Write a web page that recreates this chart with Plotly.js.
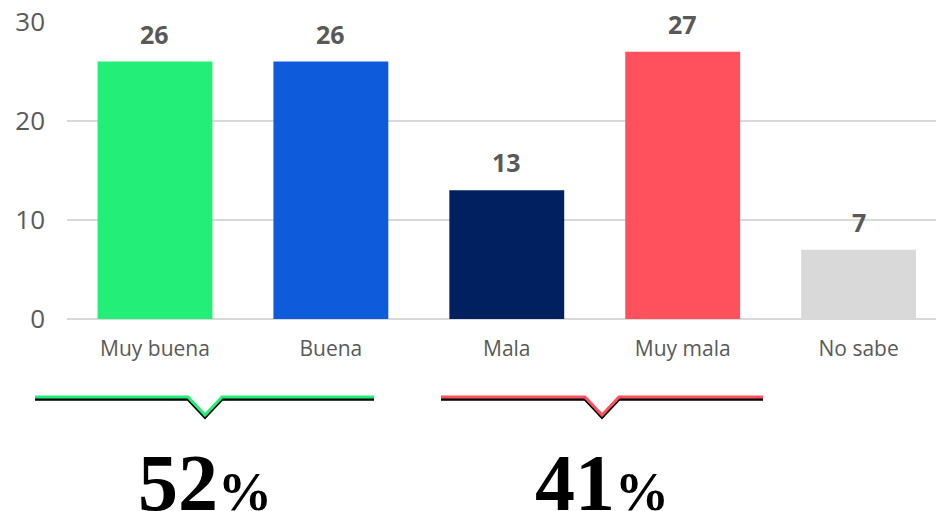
<!DOCTYPE html>
<html>
<head>
<meta charset="utf-8">
<script src="https://cdn.plot.ly/plotly-3.0.1.min.js"></script>
<style>html,body{margin:0;padding:0;background:#fff;}#chart{width:936px;height:511px;}</style>
</head>
<body>
<div id="chart"></div>
<script>
const categories = ['Muy buena', 'Buena', 'Mala', 'Muy mala', 'No sabe'];
const values = [26, 26, 13, 27, 7];
const barColors = ['#22EE78', '#0E5CDB', '#002060', '#FF505E', '#D9D9D9'];
const yTicks = [0, 10, 20, 30];
const summaryLabels = ['52', '41'];
const summaryColors = ['#22EE78', '#FF505E'];

const W = 936, H = 511;
const M = {l: 67, r: 0, t: 22, b: 192};
const PW = W - M.l - M.r, PH = H - M.t - M.b;
const fx = px => (px - M.l) / PW;
const fy = py => (H - M.b - py) / PH;

// bracket geometry (pixels): [left, notchLeft, tip, notchRight, right]
const brackets = [
  {x: [35, 188, 205, 222, 374], y: 397, tip: 415},
  {x: [441, 585, 602, 619, 763], y: 397, tip: 415}
];

function bracketPath(b, dy) {
  const pts = [[b.x[0], b.y], [b.x[1], b.y], [b.x[2], b.tip], [b.x[3], b.y], [b.x[4], b.y]];
  return pts.map((p, i) => (i ? 'L' : 'M') + fx(p[0]).toFixed(5) + ',' + fy(p[1] + dy).toFixed(5)).join(' ');
}

const shapes = [];
brackets.forEach((b, i) => {
  shapes.push({type: 'path', xref: 'paper', yref: 'paper', path: bracketPath(b, 2.2),
    line: {color: '#000000', width: 3}});
  shapes.push({type: 'path', xref: 'paper', yref: 'paper', path: bracketPath(b, 0),
    line: {color: summaryColors[i], width: 3}});
});

const annotations = values.map((v, i) => ({
  x: categories[i], y: v, xref: 'x', yref: 'y', text: String(v), showarrow: false,
  yanchor: 'bottom', yshift: 9,
  font: {family: 'Open Sans', size: 25, color: '#595959', weight: 700}
}));

summaryLabels.forEach((s, i) => {
  annotations.push({
    x: fx(brackets[i].x[2]), y: fy(483), xref: 'paper', yref: 'paper',
    text: '<b>' + s + '<span style="font-size:54px">%</span></b>', showarrow: false,
    xanchor: 'center', yanchor: 'middle',
    font: {family: 'Liberation Serif', size: 80, color: '#000000'}
  });
});

const trace = {
  type: 'bar', x: categories, y: values,
  marker: {color: barColors, line: {width: 0}},
  hoverinfo: 'none'
};

const layout = {
  width: W, height: H,
  margin: M,
  paper_bgcolor: '#ffffff', plot_bgcolor: '#ffffff',
  showlegend: false,
  bargap: 0.347,
  xaxis: {
    type: 'category', range: [-0.5, 4.44], showgrid: false, zeroline: false, showline: false,
    ticks: '', ticklabelstandoff: 15,
    tickfont: {family: 'Open Sans', size: 21, color: '#595959'}
  },
  yaxis: {
    range: [0, 30], tickvals: yTicks, ticktext: yTicks.map(String),
    showgrid: true, gridcolor: '#D9D9D9', gridwidth: 1.5,
    zeroline: true, zerolinecolor: '#D9D9D9', zerolinewidth: 1.5, showline: false,
    ticks: '', ticklabelstandoff: 21,
    tickfont: {family: 'Open Sans', size: 26, color: '#595959'}
  },
  shapes: shapes,
  annotations: annotations
};

Plotly.newPlot('chart', [trace], layout, {staticPlot: true, displayModeBar: false});
</script>
</body>
</html>
